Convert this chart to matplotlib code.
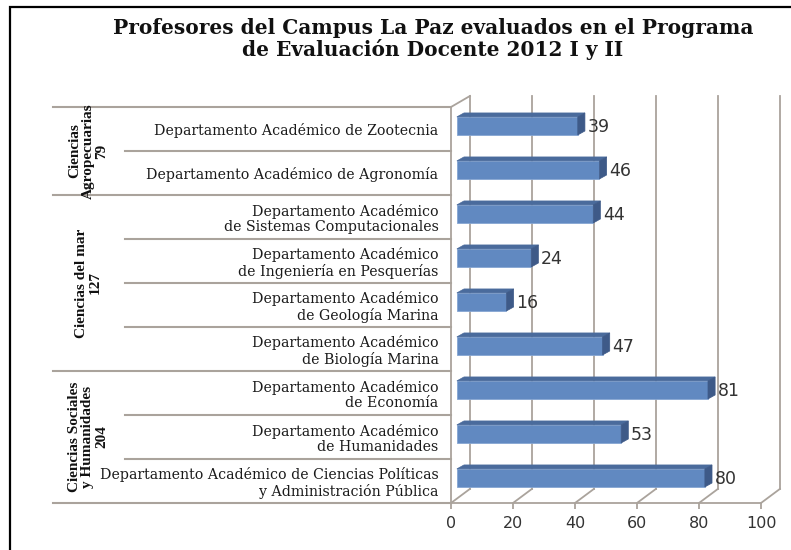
#!/usr/env/python

## Import General Tools
import numpy as np
import matplotlib as mpl
mpl.use('Agg')
from matplotlib import pyplot as plt
from matplotlib import patches
from matplotlib import transforms

##-------------------------------------------------------------------------
## Data
##-------------------------------------------------------------------------
title = ('Profesores del Campus La Paz evaluados en el Programa\n'
         'de Evaluación Docente 2012 I y II')

departments = ['Departamento Académico de Zootecnia',
               'Departamento Académico de Agronomía',
               'Departamento Académico\nde Sistemas Computacionales',
               'Departamento Académico\nde Ingeniería en Pesquerías',
               'Departamento Académico\nde Geología Marina',
               'Departamento Académico\nde Biología Marina',
               'Departamento Académico\nde Economía',
               'Departamento Académico\nde Humanidades',
               'Departamento Académico de Ciencias Políticas\ny Administración Pública']
teachers = [39, 46, 44, 24, 16, 47, 81, 53, 80]

groups = ['Ciencias\nAgropecuarias\n79',
          'Ciencias del mar\n127',
          'Ciencias Sociales\ny Humanidades\n204']
group_sizes = [2, 4, 3]

xticks = [0, 20, 40, 60, 80, 100]

##-------------------------------------------------------------------------
## Style
##-------------------------------------------------------------------------
W, H = 791, 550
AX_LEFT, AX_RIGHT = 451, 761     # px of x=0 and x=100
AX_TOP, AX_BOT = 107, 503        # px of first and last row border
GRID = '#aaa39c'
FRONT = '#6189c1'
TOP = '#4a6b9c'
SIDE = '#3e5a88'
TXT = '#333333'

# 3D depth offsets, in data units
wall_dx = 6.1
wall_dy_top = -0.25
wall_dy_bot = -0.32
bar_x0 = 1.9
bar_dy = -0.07
bar_h = 0.41
bar_ddx = 2.3
bar_ddy = -0.09


def px2ax(p):
    return (p - AX_LEFT) / (AX_RIGHT - AX_LEFT)


##-------------------------------------------------------------------------
## Main Program
##-------------------------------------------------------------------------
def main():
    n = len(departments)
    rows = np.arange(n) + 0.5
    vals = np.array(teachers)

    fig = plt.figure(figsize=(W/100, H/100), dpi=100)
    ax = fig.add_axes([AX_LEFT/W, 1 - AX_BOT/H,
                       (AX_RIGHT-AX_LEFT)/W, (AX_BOT-AX_TOP)/H])
    ax.set_xlim(0, 100)
    ax.set_ylim(n, 0)
    for s in ['top', 'right']:
        ax.spines[s].set_visible(False)
    for s in ['left', 'bottom']:
        ax.spines[s].set_color(GRID)
        ax.spines[s].set_linewidth(1.3)

    ## back wall and floor
    for x in xticks:
        ax.plot([x + wall_dx, x + wall_dx], [wall_dy_top, n + wall_dy_bot],
                color=GRID, lw=1.3, clip_on=False, zorder=1)
        ax.plot([x, x + wall_dx], [n, n + wall_dy_bot],
                color=GRID, lw=1.3, clip_on=False, zorder=1)
    ax.plot([0, wall_dx], [0, wall_dy_top], color=GRID, lw=1.3,
            clip_on=False, zorder=1)

    ## bars: front, top and side faces
    yf = rows + bar_dy
    ax.barh(yf, vals, left=bar_x0, height=bar_h, color=FRONT,
            edgecolor='#86a6d2', linewidth=0.6, zorder=3, clip_on=False)
    for y, v in zip(yf, vals):
        yt, yb = y - bar_h/2, y + bar_h/2
        xe = bar_x0 + v
        top = patches.Polygon([(bar_x0, yt), (xe, yt),
                               (xe + bar_ddx, yt + bar_ddy),
                               (bar_x0 + bar_ddx, yt + bar_ddy)],
                              closed=True, fc=TOP, ec=TOP, lw=0.5,
                              zorder=3, clip_on=False)
        side = patches.Polygon([(xe, yt), (xe + bar_ddx, yt + bar_ddy),
                                (xe + bar_ddx, yb + bar_ddy), (xe, yb)],
                               closed=True, fc=SIDE, ec=SIDE, lw=0.5,
                               zorder=3, clip_on=False)
        ax.add_patch(top)
        ax.add_patch(side)
        ax.text(xe + bar_ddx + 0.8, y + 0.02, f'{v}', ha='left', va='center',
                fontsize=12.5, color=TXT, family='DejaVu Sans', zorder=4)

    ## axes ticks and labels
    ax.set_xticks(xticks)
    ax.set_xticklabels([str(x) for x in xticks], family='DejaVu Sans')
    ax.tick_params(axis='x', length=4.5, width=1.3, color=GRID, pad=5,
                   labelsize=11.5, labelcolor=TXT)
    ax.set_yticks(rows)
    ax.set_yticklabels(departments, family='DejaVu Serif', fontsize=10.2,
                       color='#1a1a1a', linespacing=1.1)
    ax.tick_params(axis='y', length=0, pad=9)

    ## category table lines and group labels
    trans = transforms.blended_transform_factory(ax.transAxes, ax.transData)
    bounds = np.cumsum([0] + group_sizes)
    for i in range(n + 1):
        x_start = px2ax(53) if i in bounds else px2ax(125)
        ax.plot([x_start, 0], [i, i], color=GRID, lw=1.5, transform=trans,
                clip_on=False, zorder=1)
    for g, b0, b1 in zip(groups, bounds[:-1], bounds[1:]):
        ax.text(px2ax(88), (b0 + b1) / 2, g, transform=trans, rotation=90,
                ha='center', va='center', multialignment='center',
                fontsize=11, fontweight='bold', linespacing=1.05,
                family=['Liberation Serif', 'DejaVu Serif'],
                color='#111111')

    ## title and frame
    fig.text(433/W, 1 - 39/H, title, ha='center', va='center',
             fontsize=14.5, fontweight='bold', family='DejaVu Serif',
             linespacing=1.1, color='#111111')
    fig.add_artist(patches.Rectangle((10/W, -0.05), 1.1, 1.05 - 7/H,
                                     transform=fig.transFigure, fill=False,
                                     ec='black', lw=1.6))

    fig.savefig('out.png', dpi=100)


if __name__ == '__main__':
    main()
